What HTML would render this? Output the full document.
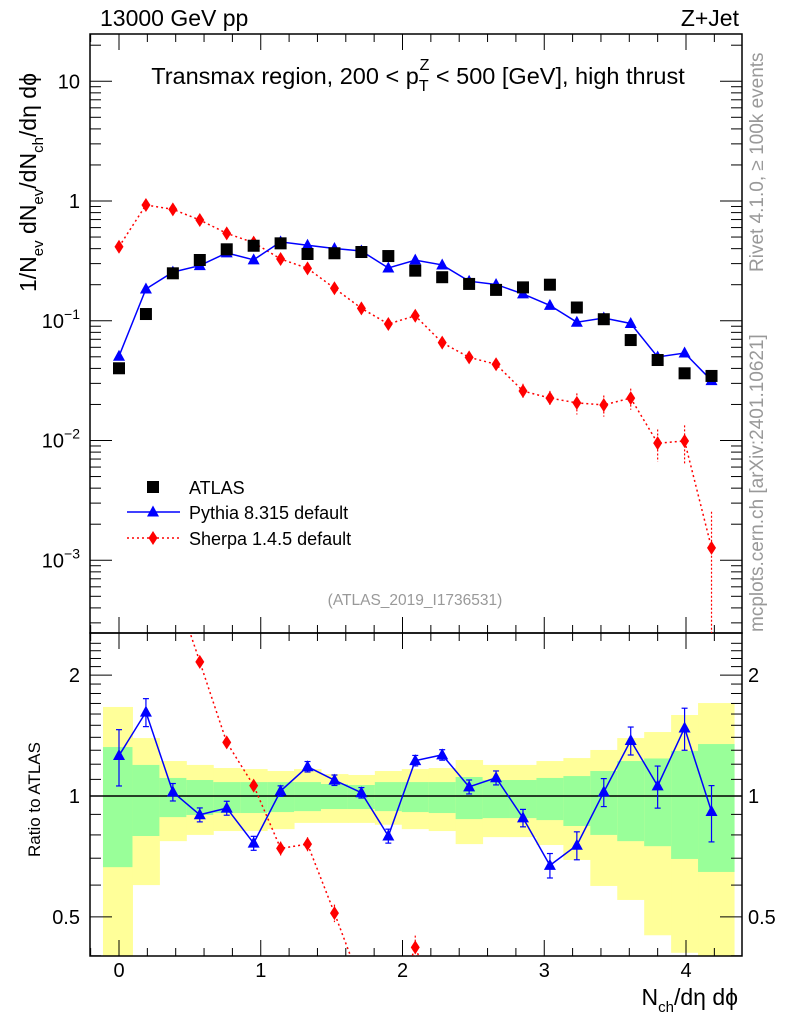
<!DOCTYPE html>
<html><head><meta charset="utf-8"><style>
html,body{margin:0;background:#fff;width:786px;height:1024px;overflow:hidden;position:relative;}
svg{display:block;font-family:"Liberation Sans",sans-serif;position:absolute;left:0;top:0;}
</style></head><body>
<svg id="c" width="786" height="1024" xmlns="http://www.w3.org/2000/svg"></svg>
<script>
const xVals=[0,0.19,0.38,0.57,0.76,0.95,1.14,1.33,1.52,1.71,1.9,2.09,2.28,2.47,2.66,2.85,3.04,3.23,3.42,3.61,3.8,3.99,4.18];
const atlasVals=[0.0401,0.1138,0.249,0.3216,0.395,0.423,0.443,0.361,0.366,0.375,0.347,0.262,0.231,0.203,0.181,0.190,0.200,0.129,0.103,0.069,0.047,0.0364,0.0346];
const pythiaRatio=[1.261,1.618,1.023,0.898,0.933,0.763,1.029,1.183,1.095,1.019,0.795,1.225,1.266,1.054,1.110,0.882,0.672,0.754,1.023,1.375,1.060,1.477,0.915];
const pythiaErr=[0.16,0.08,0.05,0.04,0.04,0.04,0.03,0.03,0.03,0.03,0.04,0.03,0.03,0.04,0.04,0.05,0.07,0.08,0.08,0.08,0.12,0.12,0.16];
const sherpaVals=[0.415,0.926,0.852,0.694,0.537,0.449,0.328,0.274,0.187,0.127,0.094,0.110,0.0656,0.0495,0.0433,0.0259,0.0226,0.0206,0.0198,0.0226,0.0095,0.0099,0.00127];
const sherpaErr=[0.03,0.03,0.03,0.03,0.03,0.03,0.04,0.04,0.05,0.06,0.07,0.07,0.09,0.1,0.1,0.15,0.15,0.2,0.2,0.2,0.3,0.35,1.0];
const yellowTop=[1.666,1.394,1.222,1.195,1.174,1.167,1.154,1.167,1.134,1.128,1.154,1.167,1.174,1.229,1.195,1.195,1.222,1.243,1.302,1.394,1.443,1.591,1.704];
const greenTop=[1.324,1.195,1.109,1.096,1.083,1.083,1.083,1.083,1.071,1.065,1.083,1.083,1.083,1.115,1.096,1.096,1.109,1.121,1.154,1.222,1.240,1.295,1.347];
const greenBot=[0.665,0.795,0.886,0.897,0.907,0.907,0.912,0.917,0.928,0.928,0.917,0.912,0.907,0.876,0.881,0.881,0.871,0.842,0.800,0.772,0.750,0.697,0.647];
const yellowBot=[0.30,0.600,0.772,0.800,0.818,0.818,0.827,0.857,0.857,0.857,0.848,0.827,0.818,0.759,0.790,0.790,0.755,0.693,0.597,0.551,0.45,0.407,0.30];
const xTicks=[0,1,2,3,4];

const svg=document.getElementById('c');
const NS='http://www.w3.org/2000/svg';
const L=90,R=742,T=34,M=633,B=956;
const X=v=>119+v*141.75;
const Y=v=>201-119.75*Math.log10(v);
const YR=r=>796-401.6*Math.log10(r);
function el(tag,attrs,parent){const e=document.createElementNS(NS,tag);for(const k in attrs)e.setAttribute(k,attrs[k]);(parent||svg).appendChild(e);return e;}
function txt(s,x,y,size,attrs,parent){const t=el('text',Object.assign({x:x,y:y,'font-size':size},attrs||{}),parent);t.textContent=s;return t;}

const defs=el('defs',{});
const cp1=el('clipPath',{id:'cm'},defs);el('rect',{x:L,y:T,width:R-L,height:M-T},cp1);
const cp2=el('clipPath',{id:'cr'},defs);el('rect',{x:L,y:M,width:R-L,height:B-M},cp2);

const gBand=el('g',{'clip-path':'url(#cr)'});


function edge(i){if(i===0)return -0.113;if(i===xVals.length)return 4.339;return (xVals[i-1]+xVals[i])/2;}
for(let i=0;i<xVals.length;i++){
  const x0=X(edge(i)),x1=X(edge(i+1));
  const y1=el('rect',{x:x0,y:YR(yellowTop[i]),width:x1-x0+0.5,height:YR(yellowBot[i])-YR(yellowTop[i]),fill:'#ffff99'},gBand);
  
  
  const g1=el('rect',{x:x0,y:YR(greenTop[i]),width:x1-x0+0.5,height:YR(greenBot[i])-YR(greenTop[i]),fill:'#99ff99'},gBand);
  
  
}
el('line',{x1:L,x2:R,y1:YR(1),y2:YR(1),stroke:'#000','stroke-width':1.5},gBand);

el('rect',{x:L,y:T,width:R-L,height:M-T,fill:'none',stroke:'#000','stroke-width':1.5,});
el('rect',{x:L,y:M,width:R-L,height:B-M,fill:'none',stroke:'#000','stroke-width':1.5,});

const gx=el('g',{stroke:'#000','stroke-width':1});
for(let k=-0.4;k<=4.41;k+=0.2){const v=Math.round(k*10)/10;const x=X(v);if(x<L||x>R)continue;
  const maj=Math.abs(v-Math.round(v))<1e-6;const h=maj?16:8;
  [[T,T+h],[M,M-h],[M,M+h],[B,B-h]].forEach(p=>el('line',{x1:x,x2:x,y1:p[0],y2:p[1]},gx));}
xTicks.forEach(v=>{const t=txt(String(v),X(v),977,20,{'text-anchor':'middle'});
  
  });

const gy=el('g',{stroke:'#000','stroke-width':1});
for(let d=-4;d<=1;d++){for(let m=1;m<10;m++){const v=m*Math.pow(10,d);const y=Y(v);if(y<T||y>M)continue;const h=m===1?22:11;
  el('line',{x1:L,x2:L+h,y1:y,y2:y},gy);el('line',{x1:R,x2:R-h,y1:y,y2:y},gy);}}
const ylab=[[10,'10',null],[1,'1',null],[0.1,'10','−1'],[0.01,'10','−2'],[0.001,'10','−3']];
ylab.forEach(a=>{const y=Y(a[0])+7;let t;
  if(a[2]){t=txt(a[1],58,y,20,{'text-anchor':'end'});const s=el('tspan',{dy:-9,'font-size':14},t);s.textContent=a[2];t.setAttribute('x',80);}
  else t=txt(a[1],80,y,20,{'text-anchor':'end'});
  
  });

for(let r=0.4;r<=2.5;r+=0.1){const v=Math.round(r*10)/10;const y=YR(v);if(y<M||y>B)continue;
  const maj=(v===0.5||v===1||v===2);const h=maj?22:11;
  el('line',{x1:L,x2:L+h,y1:y,y2:y,stroke:'#000'});el('line',{x1:R,x2:R-h,y1:y,y2:y,stroke:'#000'});}
[[2,'2'],[1,'1'],[0.5,'0.5']].forEach(a=>{const y=YR(a[0])+7;
  const t1=txt(a[1],80,y,20,{'text-anchor':'end'});
  const t2=txt(a[1],748,y,20,{});});

const gm=el('g',{'clip-path':'url(#cm)'});
let sp='';xVals.forEach((x,i)=>{sp+=(i?'L':'M')+X(x)+','+Y(sherpaVals[i]);});
el('path',{d:sp,fill:'none',stroke:'#ff0000','stroke-width':1.5,'stroke-dasharray':'2,3'},gm);
xVals.forEach((x,i)=>{const cx=X(x),cy=Y(sherpaVals[i]);const e=sherpaErr[i];
  const lo=sherpaVals[i]*(1-e)>0?Y(sherpaVals[i]*(1-e)):M+5,hi=Y(sherpaVals[i]*(1+e));
  el('line',{x1:cx,x2:cx,y1:hi,y2:lo,stroke:'#ff0000','stroke-width':1.2,'stroke-dasharray':'2,2'},gm);
  const d=el('path',{d:`M${cx},${cy-7}L${cx+4.5},${cy}L${cx},${cy+7}L${cx-4.5},${cy}Z`,fill:'#ff0000'},gm);
  
  });
const pyVals=atlasVals.map((a,i)=>a*pythiaRatio[i]);
let pp='';xVals.forEach((x,i)=>{pp+=(i?'L':'M')+X(x)+','+Y(pyVals[i]);});
el('path',{d:pp,fill:'none',stroke:'#0000ff','stroke-width':1.5},gm);
function tri(cx,cy,g){return el('path',{d:`M${cx},${cy-6.5}L${cx+6},${cy+4.5}L${cx-6},${cy+4.5}Z`,fill:'#0000ff'},g);}
xVals.forEach((x,i)=>{const cx=X(x);const e=pythiaErr[i]*0.5;
  el('line',{x1:cx,x2:cx,y1:Y(pyVals[i]*(1+e)),y2:Y(pyVals[i]*(1-e)),stroke:'#0000ff','stroke-width':1.2},gm);
  const t=tri(cx,Y(pyVals[i]),gm);
  
  });
xVals.forEach((x,i)=>{const r=el('rect',{x:X(x)-6,y:Y(atlasVals[i])-6,width:12,height:12,fill:'#000'},gm);
  
  });

const gr=el('g',{'clip-path':'url(#cr)'});
const shR=sherpaVals.map((s,i)=>s/atlasVals[i]);
let sr='';xVals.forEach((x,i)=>{sr+=(i?'L':'M')+X(x)+','+YR(Math.max(shR[i],0.05));});
el('path',{d:sr,fill:'none',stroke:'#ff0000','stroke-width':1.5,'stroke-dasharray':'2,3'},gr);
xVals.forEach((x,i)=>{const cx=X(x),cy=YR(shR[i]);const e=sherpaErr[i];
  el('line',{x1:cx,x2:cx,y1:YR(shR[i]*(1+e)),y2:YR(Math.max(shR[i]*(1-e),0.05)),stroke:'#ff0000','stroke-width':1.2,'stroke-dasharray':'2,2'},gr);
  const d=el('path',{d:`M${cx},${cy-7}L${cx+4.5},${cy}L${cx},${cy+7}L${cx-4.5},${cy}Z`,fill:'#ff0000'},gr);
  
  });
let pr='';xVals.forEach((x,i)=>{pr+=(i?'L':'M')+X(x)+','+YR(pythiaRatio[i]);});
el('path',{d:pr,fill:'none',stroke:'#0000ff','stroke-width':1.5},gr);
xVals.forEach((x,i)=>{const cx=X(x);const e=pythiaErr[i];const r=pythiaRatio[i];
  el('line',{x1:cx,x2:cx,y1:YR(r*(1+e)),y2:YR(r*(1-e)),stroke:'#0000ff','stroke-width':1.2},gr);
  el('line',{x1:cx-3,x2:cx+3,y1:YR(r*(1+e)),y2:YR(r*(1+e)),stroke:'#0000ff','stroke-width':1.2},gr);
  el('line',{x1:cx-3,x2:cx+3,y1:YR(r*(1-e)),y2:YR(r*(1-e)),stroke:'#0000ff','stroke-width':1.2},gr);
  const t=tri(cx,YR(r),gr);
  
  });

const lg=el('g',{});


el('rect',{x:147,y:481,width:12,height:12,fill:'#000'},lg);
txt('ATLAS',189,494,18,{},lg);
el('line',{x1:127,x2:180,y1:512,y2:512,stroke:'#0000ff','stroke-width':1.5},lg);
tri(153,512,lg);
txt('Pythia 8.315 default',189,519,18,{},lg);
el('line',{x1:127,x2:180,y1:538,y2:538,stroke:'#ff0000','stroke-width':1.5,'stroke-dasharray':'2,3'},lg);
el('path',{d:'M153,531L157.5,538L153,545L148.5,538Z',fill:'#ff0000'},lg);
txt('Sherpa 1.4.5 default',189,545,18,{},lg);
</script>
<svg width="786" height="1024" xmlns="http://www.w3.org/2000/svg" font-family="Liberation Sans, sans-serif">
<text x="100" y="26" font-size="23">13000 GeV pp</text>
<text x="739" y="26" font-size="23" text-anchor="end">Z+Jet</text>
<text x="418" y="84" font-size="23.5" text-anchor="middle">Transmax region, 200 &lt; p<tspan dy="7" font-size="16">T</tspan><tspan dx="-9" dy="-21" font-size="16">Z</tspan><tspan dy="14"> &lt; 500 [GeV], high thrust</tspan></text>
<text x="415" y="605" font-size="15.5" fill="#999" text-anchor="middle">(ATLAS_2019_I1736531)</text>
<text transform="translate(36,292) rotate(-90)" font-size="23">1/N<tspan dy="7" font-size="15">ev</tspan><tspan dy="-7"> dN</tspan><tspan dy="7" font-size="15">ev</tspan><tspan dy="-7">/dN</tspan><tspan dy="7" font-size="15">ch</tspan><tspan dy="-7">/dη dϕ</tspan></text>
<text transform="translate(40,857) rotate(-90)" font-size="17">Ratio to ATLAS</text>
<text x="738" y="1005" font-size="23" text-anchor="end">N<tspan dy="7" font-size="15">ch</tspan><tspan dy="-7">/dη dϕ</tspan></text>
<text transform="translate(763,272) rotate(-90)" font-size="19" fill="#999">Rivet 4.1.0, ≥ 100k events</text>
<text transform="translate(763,632) rotate(-90)" font-size="19" fill="#999">mcplots.cern.ch [arXiv:2401.10621]</text>
</svg>
</body></html>
